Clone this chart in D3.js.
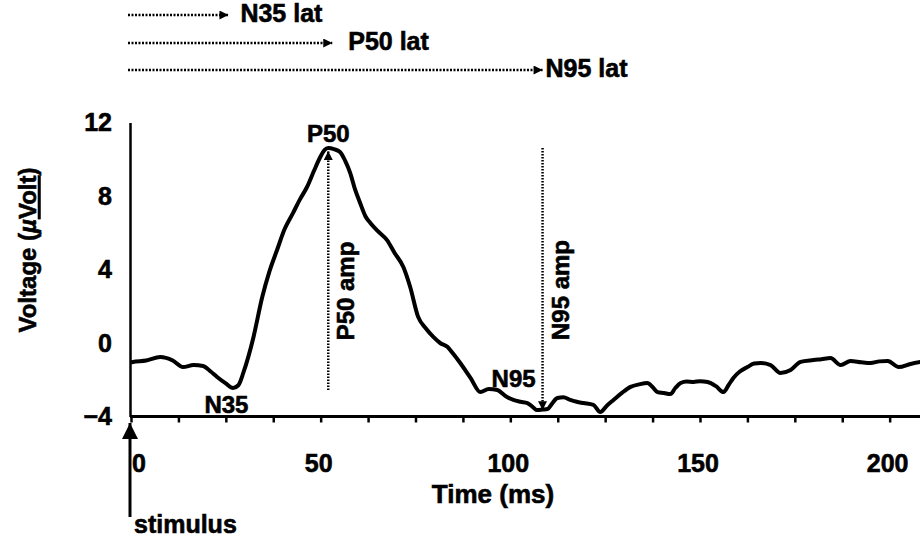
<!DOCTYPE html>
<html>
<head>
  <script src="https://d3js.org/d3.v7.min.js"></script>
  <style>
    body { margin: 0; background: #fff; }
    text { font-family: Arial, "Liberation Sans", sans-serif; font-weight: bold; fill: #000; stroke: #000; stroke-width: 0.6px; }
  </style>
</head>
<body>
  <script>
    // Kurve (Zeit in ms, Spannung in µV)
    var timeMs = [0, 0.5, 4, 7.7, 11, 13.7, 16.5, 19, 21, 22.7, 25, 26.9, 28.3, 29.6, 31, 32.3, 34.6, 36.5, 38.5, 40.5, 42.7, 44.5, 46.4, 48.3, 49.9, 51, 52, 53.5, 55.1, 56.5, 57.8, 59, 60.4, 61.8, 63.1, 65, 67.5, 69.5, 71.8, 73.6, 75.7, 77.7, 79.7, 81.5, 83.4, 85, 86.8, 89.5, 92.1, 94.3, 96.6, 98.8, 100.8, 102.7, 104.5, 106, 107.1, 108.5, 109.8, 111, 112.4, 114, 115.8, 117.5, 119.3, 121.9, 123.7, 125.5, 127.2, 129.5, 131.7, 134, 136.1, 137.5, 138.8, 140.5, 142.2, 143.5, 144.9, 146.5, 148.3, 150, 152, 154.2, 156.2, 157.5, 158.8, 160.5, 162.5, 164.3, 166, 168.6, 171.2, 173.9, 176.5, 179.9, 182, 184.4, 187.1, 189.7, 192.5, 195, 197.3, 199.5, 202.4, 205.5, 208.2];
    var voltage = [-1.05, -1.03, -0.95, -0.76, -0.95, -1.31, -1.2, -1.25, -1.55, -1.85, -2.2, -2.45, -2.3, -1.63, -0.7, 0.33, 2.5, 3.9, 5.06, 6.2, 7.07, 7.8, 8.49, 9.4, 10.12, 10.5, 10.61, 10.55, 10.4, 9.9, 9.25, 8.4, 7.62, 6.9, 6.53, 6.1, 5.6, 4.9, 4.14, 3.05, 1.42, 0.8, 0.33, 0.0, -0.21, -0.6, -1.09, -1.9, -2.67, -2.5, -2.56, -2.9, -3.1, -3.2, -3.27, -3.5, -3.65, -3.62, -3.59, -3.3, -2.99, -2.95, -3.1, -3.2, -3.27, -3.37, -3.76, -3.4, -3.1, -2.7, -2.39, -2.25, -2.18, -2.4, -2.67, -2.72, -2.78, -2.45, -2.18, -2.1, -2.12, -2.08, -2.12, -2.35, -2.67, -2.3, -1.9, -1.55, -1.31, -1.12, -1.09, -1.2, -1.63, -1.47, -1.03, -0.93, -0.88, -0.82, -1.2, -0.98, -1.05, -1.09, -1.0, -0.98, -1.31, -1.14, -1.03];

    // Gipfel und Täler
    var peakNames = ["N35", "P50", "N95"];
    var peakTimes = [27, 52, 108.5];
    var peakValues = [-2.45, 10.61, -3.6];

    // Achsen
    var xLabelTicks = [0, 50, 100, 150, 200];
    var xMinorTicks = d3.range(0, 201, 12.5);
    var yTicks = [-4, 0, 4, 8, 12];

    var svg = d3.select("body")
      .append("svg")
      .attr("width", 920)
      .attr("height", 540);

    var x = d3.scaleLinear().domain([0, 208]).range([131, 920]);
    var y = d3.scaleLinear().domain([-4, 12]).range([416.5, 122.5]);

    var defs = svg.append("defs");
    defs.append("marker")
      .attr("id", "pfeil")
      .attr("viewBox", "0 0 10 10")
      .attr("refX", 10).attr("refY", 5)
      .attr("markerWidth", 11).attr("markerHeight", 9)
      .attr("markerUnits", "userSpaceOnUse")
      .attr("orient", "auto")
      .append("path").attr("d", "M0,0L10,5L0,10Z").attr("fill", "#000");
    defs.append("marker")
      .attr("id", "grosserPfeil")
      .attr("viewBox", "0 0 10 10")
      .attr("refX", 10).attr("refY", 5)
      .attr("markerWidth", 17).attr("markerHeight", 16)
      .attr("markerUnits", "userSpaceOnUse")
      .attr("orient", "auto")
      .append("path").attr("d", "M0,0L10,5L0,10Z").attr("fill", "#000");

    // x-Achse: kleine Striche
    var xAxis = svg.append("g")
      .attr("transform", "translate(0," + y(-4) + ")")
      .call(d3.axisBottom(x).tickValues(xMinorTicks).tickSize(6).tickSizeOuter(0).tickFormat(""));
    xAxis.select(".domain").attr("stroke-width", 3).attr("d", "M" + (x(0) - 1) + ",0H920");
    xAxis.selectAll(".tick line").attr("stroke-width", 2.5);

    // x-Achse: Beschriftung
    svg.append("g").selectAll("text")
      .data(xLabelTicks)
      .join("text")
      .attr("x", function(d) { return x(d) + (d === 0 ? 8 : -2); })
      .attr("y", 472)
      .attr("text-anchor", "middle")
      .style("font-size", "25px")
      .text(function(d) { return d; });

    // y-Achse
    var yAxis = svg.append("g")
      .attr("transform", "translate(130,0)")
      .call(d3.axisLeft(y).tickValues(yTicks).tickSize(0).tickPadding(18));
    yAxis.select(".domain").attr("stroke-width", 2.5);
    yAxis.selectAll("text")
      .style("font-size", "25px")
      .style("font-family", "Arial, 'Liberation Sans', sans-serif")
      .style("font-weight", "bold")
      .attr("fill", "#000");

    svg.append("text")
      .attr("transform", "translate(36,250) rotate(-90)")
      .attr("text-anchor", "middle")
      .style("font-size", "24px")
      .call(function(t) {
        t.append("tspan").text("Voltage (");
        t.append("tspan").style("font-style", "italic").text("\u00b5");
        t.append("tspan").style("text-decoration", "underline").text("Volt");
        t.append("tspan").text(")");
      });

    svg.append("text")
      .attr("x", 493)
      .attr("y", 503)
      .attr("text-anchor", "middle")
      .style("font-size", "26px")
      .text("Time (ms)");

    // Reiz-Pfeil
    svg.append("line")
      .attr("x1", 130).attr("x2", 130)
      .attr("y1", 517).attr("y2", 423)
      .attr("stroke", "#000").attr("stroke-width", 3)
      .attr("marker-end", "url(#grosserPfeil)");
    svg.append("text")
      .attr("x", 134)
      .attr("y", 533)
      .style("font-size", "25px")
      .text("stimulus");

    // Kurve
    var line = d3.line()
      .x(function(d, i) { return x(timeMs[i]); })
      .y(function(d) { return y(d); })
      .curve(d3.curveMonotoneX);
    svg.append("path")
      .datum(voltage)
      .attr("d", line)
      .attr("fill", "none")
      .attr("stroke", "#000")
      .attr("stroke-width", 4)
      .attr("stroke-linejoin", "round");

    // Amplituden-Linien
    svg.append("line")
      .attr("x1", x(peakTimes[1])).attr("x2", x(peakTimes[1]))
      .attr("y1", y(peakValues[0]) + 2).attr("y2", y(peakValues[1]) + 3)
      .attr("stroke", "#000").attr("stroke-width", 2.5)
      .attr("stroke-dasharray", "1.5,1.5")
      .attr("marker-end", "url(#pfeil)");
    svg.append("line")
      .attr("x1", x(peakTimes[2])).attr("x2", x(peakTimes[2]))
      .attr("y1", y(peakValues[1])).attr("y2", y(peakValues[2]) + 1)
      .attr("stroke", "#000").attr("stroke-width", 2.5)
      .attr("stroke-dasharray", "1.5,1.5")
      .attr("marker-end", "url(#pfeil)");

    svg.append("text")
      .attr("transform", "translate(" + (x(peakTimes[1]) + 19) + ",291) rotate(-90)")
      .attr("text-anchor", "middle")
      .attr("dominant-baseline", "middle")
      .style("font-size", "24px")
      .text("P50 amp");
    svg.append("text")
      .attr("transform", "translate(" + (x(peakTimes[2]) + 20) + ",290) rotate(-90)")
      .attr("text-anchor", "middle")
      .attr("dominant-baseline", "middle")
      .style("font-size", "24px")
      .text("N95 amp");

    // Gipfel-Beschriftung
    var labelDx = [-7, 0, -29];
    var labelDy = [25, -6, -22];
    svg.append("g").selectAll("text")
      .data(peakNames)
      .join("text")
      .attr("x", function(d, i) { return x(peakTimes[i]) + labelDx[i]; })
      .attr("y", function(d, i) { return y(peakValues[i]) + labelDy[i]; })
      .attr("text-anchor", "middle")
      .style("font-size", "24px")
      .text(function(d) { return d; });

    // Latenz-Pfeile oben
    var latRowY = [15, 43, 70];
    var latGap = [12, 16, 3];
    var latTip = [-5, 4, 0];
    peakNames.forEach(function(name, i) {
      var tip = x(peakTimes[i]) + latTip[i];
      svg.append("line")
        .attr("x1", x(0) - 3).attr("x2", tip)
        .attr("y1", latRowY[i]).attr("y2", latRowY[i])
        .attr("stroke", "#000").attr("stroke-width", 2.5)
        .attr("stroke-dasharray", "2,1.5")
        .attr("marker-end", "url(#pfeil)");
      svg.append("text")
        .attr("x", tip + latGap[i])
        .attr("y", latRowY[i])
        .attr("dominant-baseline", "middle")
        .style("font-size", "25px")
        .text(name + " lat");
    });
  </script>
</body>
</html>
